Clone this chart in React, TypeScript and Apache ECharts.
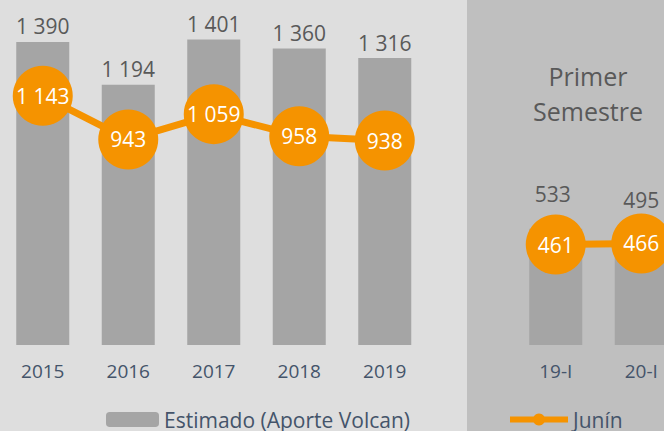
import React, { useEffect, useRef } from "react";
import * as echarts from "echarts";

const categories = ["2015", "2016", "2017", "2018", "2019", "", "19-I", "20-I"];
const estimado = [1390, 1194, 1401, 1360, 1316, null, 533, 495];
const junin = [1143, 943, 1059, 958, 938, null, 461, 466];
const barName = "Estimado (Aporte Volcan)";
const lineName = "Junín";
const panelTitle = "Primer\nSemestre";

const FONT = "Open Sans";
const fmt = (v: any) =>
  v == null ? "" : String(v).replace(/\B(?=(\d{3})+(?!\d))/g, " ");

export default function App() {
  const ref = useRef<HTMLDivElement>(null);
  useEffect(() => {
    if (!ref.current) return;
    const chart = echarts.init(ref.current, null, { renderer: "svg" });
    chart.setOption({
      animation: false,
      backgroundColor: "#dedede",
      textStyle: { fontFamily: FONT },
      graphic: [
        {
          type: "rect",
          left: 467,
          top: 0,
          z: -10,
          shape: { width: 217, height: 431 },
          style: { fill: "#bfbfbf" },
        },
        {
          type: "text",
          x: 588,
          y: 58,
          z: 10,
          style: {
            text: panelTitle,
            fill: "#595959",
            font: `25px "${FONT}"`,
            align: "center",
            lineHeight: 35,
          },
        },
      ],
      grid: { left: 0, top: 18, right: 0, bottom: 86, containLabel: false },
      xAxis: {
        type: "category",
        data: categories,
        axisLine: { show: false },
        axisTick: { show: false },
        axisLabel: { color: "#44546a", fontSize: 19, fontFamily: FONT, margin: 16 },
      },
      yAxis: {
        type: "value",
        min: 0,
        max: 1500,
        show: false,
        splitLine: { show: false },
      },
      legend: [
        {
          data: [barName],
          left: 106,
          top: 409,
          padding: 0,
          itemWidth: 53,
          itemHeight: 15,
          itemGap: 6,
          textStyle: { color: "#44546a", fontSize: 21, fontFamily: FONT },
        },
        {
          data: [lineName],
          left: 507,
          top: 409,
          padding: 0,
          itemWidth: 58,
          itemHeight: 15,
          itemGap: 4,
          lineStyle: { width: 6 },
          textStyle: { color: "#44546a", fontSize: 21, fontFamily: FONT },
        },
      ],
      series: [
        {
          name: barName,
          type: "bar",
          barWidth: 53,
          itemStyle: { color: "#a5a5a5" },
          data: estimado,
          label: {
            show: true,
            position: "top",
            distance: 5,
            color: "#595959",
            fontSize: 21,
            fontFamily: FONT,
            formatter: (p: any) => fmt(p.value),
          },
          labelLayout: (p: any) => {
            if (p.dataIndex === 6) return { dy: -19, dx: -3 };
            if (p.dataIndex === 7) return { dy: -22 };
            return {};
          },
        },
        {
          name: lineName,
          type: "line",
          z: 3,
          data: junin,
          connectNulls: false,
          symbol: "circle",
          symbolSize: 60,
          lineStyle: { color: "#f59300", width: 7 },
          itemStyle: { color: "#f59300" },
          label: {
            show: true,
            position: "inside",
            color: "#ffffff",
            fontSize: 21,
            fontFamily: FONT,
            formatter: (p: any) => fmt(p.value),
          },
        },
      ],
    });
    return () => chart.dispose();
  }, []);
  return (
    <div
      style={{
        position: "absolute",
        left: 0,
        top: 0,
        width: 664,
        height: 431,
        overflow: "hidden",
      }}
    >
      <div ref={ref} style={{ width: 684, height: 431 }} />
    </div>
  );
}
